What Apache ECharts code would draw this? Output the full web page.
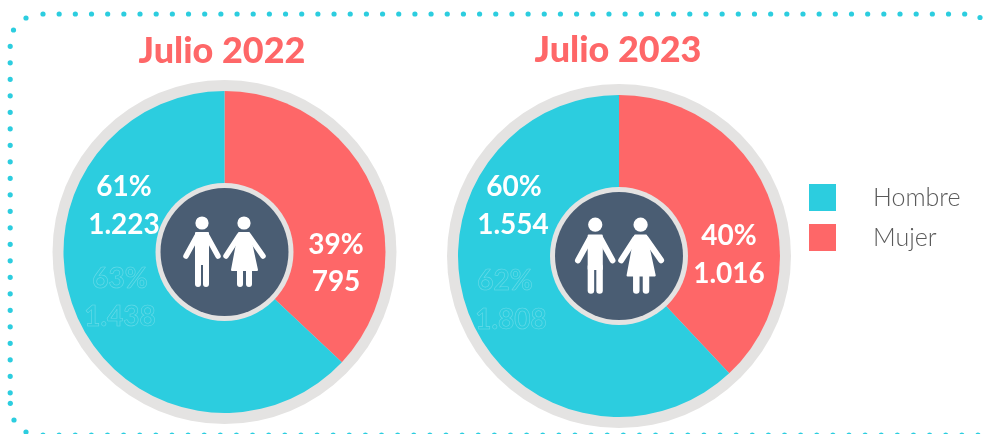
<!DOCTYPE html>
<html>
<head>
<meta charset="utf-8">
<style>
  html, body { margin: 0; padding: 0; background: #fff; }
  #chart { width: 985px; height: 434px; }
</style>
<script src="https://cdn.jsdelivr.net/npm/echarts@6/dist/echarts.min.js"></script>
</head>
<body>
<div id="chart"></div>
<script>
  var titles = ['Julio 2022', 'Julio 2023']
  var categories = ['Mujer', 'Hombre']
  var legendNames = ['Hombre', 'Mujer']
  // shares as drawn by the slices (they follow the older figures, not the printed ones)
  var slices2022 = [37, 63]
  var slices2023 = [38, 62]
  var hombreLabels = [['61%', '1.223'], ['60%', '1.554']]
  var mujerLabels = [['39%', '795'], ['40%', '1.016']]
  var ghostLabels = [['63%', '1.438'], ['62%', '1.808']]

  var CYAN = '#2ccddf'
  var RED = '#fe6768'
  var GREY = '#e4e3e2'
  var DARK = '#4a5d73'
  var FONT = 'Lato, "Open Sans", sans-serif'

  var chart = echarts.init(document.getElementById('chart'))

  function pieSeries (center, slices) {
    var base = { type: 'pie', center: center, silent: true, animation: false, startAngle: 90, label: { show: false }, labelLine: { show: false } }
    return [
      Object.assign({}, base, { name: 'aro', z: 1, radius: [0, 172], data: [{ value: 1, itemStyle: { color: GREY } }] }),
      Object.assign({}, base, {
        name: 'sexo',
        z: 2,
        radius: [0, 161],
        data: [
          { name: categories[0], value: slices[0], itemStyle: { color: RED } },
          { name: categories[1], value: slices[1], itemStyle: { color: CYAN } }
        ]
      }),
      Object.assign({}, base, { name: 'aro centro', z: 3, radius: [0, 69], data: [{ value: 1, itemStyle: { color: GREY } }] }),
      Object.assign({}, base, { name: 'centro', z: 4, radius: [0, 64], data: [{ value: 1, itemStyle: { color: DARK } }] })
    ]
  }

  // dotted frame, open on the right side
  function frameDots () {
    var pts = [[26, 18], [13.5, 30], [10.3, 403.3], [14, 420], [26, 432], [980, 17.5]]
    var i
    for (i = 0; i <= 57; i++) pts.push([43 + i * 16.17, 14])
    for (i = 0; i <= 21; i++) pts.push([10.2, 46.3 + i * 16.5])
    for (i = 0; i <= 58; i++) pts.push([43 + i * 16.12, 435])
    return pts.map(function (p) {
      return { type: 'circle', z: 10, silent: true, shape: { cx: p[0], cy: p[1], r: 2.6 }, style: { fill: CYAN } }
    })
  }

  function limb (x1, y1, x2, y2, w) {
    return { type: 'line', z: 10, silent: true, shape: { x1: x1, y1: y1, x2: x2, y2: y2 }, style: { stroke: '#fff', lineWidth: w, lineCap: 'round' } }
  }

  function poly (points) {
    return { type: 'polygon', z: 10, silent: true, shape: { points: points }, style: { fill: '#fff', stroke: '#fff', lineWidth: 2, lineJoin: 'round' } }
  }

  // man and woman pictogram, drawn around the centre of the hole
  function people (cx, cy, scale) {
    return {
      type: 'group',
      x: cx,
      y: cy,
      scaleX: scale,
      scaleY: scale,
      children: [
        { type: 'circle', z: 10, silent: true, shape: { cx: -22, cy: -29, r: 6.6 }, style: { fill: '#fff' } },
        poly([[-28, -19], [-16, -19], [-16, 12], [-28, 12]]),
        limb(-27, -16, -38, 4, 5.5),
        limb(-17, -16, -6, 4, 5.5),
        limb(-26, 10, -26, 32, 6),
        limb(-18, 10, -18, 32, 6),
        { type: 'circle', z: 10, silent: true, shape: { cx: 20, cy: -29, r: 6.6 }, style: { fill: '#fff' } },
        poly([[15, -19], [25, -19], [33, 18], [8, 18]]),
        limb(15, -16, 2, 4, 5.5),
        limb(25, -16, 39, 4, 5.5),
        limb(16, 16, 16, 32, 6),
        limb(25, 16, 25, 32, 6)
      ]
    }
  }

  function valueText (x, y, text) {
    return { type: 'text', z: 10, silent: true, x: x, y: y, style: { text: text, fill: '#fff', font: '700 28px ' + FONT, align: 'center', verticalAlign: 'middle' } }
  }

  function ghostText (x, y, text) {
    return { type: 'text', z: 10, silent: true, x: x, y: y, style: { text: text, fill: 'rgba(255,255,255,0)', stroke: 'rgba(255,255,255,0.28)', lineWidth: 0.6, font: '700 28px ' + FONT, align: 'center', verticalAlign: 'middle' } }
  }

  function titleText (x, y, text) {
    return { type: 'text', z: 10, silent: true, x: x, y: y, style: { text: text, fill: RED, font: '900 36px ' + FONT, align: 'center', verticalAlign: 'middle' } }
  }

  var elements = frameDots().concat([
    titleText(222, 51, titles[0]),
    titleText(618, 50, titles[1]),
    people(224, 252, 1),
    people(619, 256, 1.08),
    valueText(124, 187, hombreLabels[0][0]),
    valueText(124, 225, hombreLabels[0][1]),
    valueText(336, 245, mujerLabels[0][0]),
    valueText(336, 282, mujerLabels[0][1]),
    valueText(514, 187, hombreLabels[1][0]),
    valueText(513, 225, hombreLabels[1][1]),
    valueText(729, 236, mujerLabels[1][0]),
    valueText(729, 274, mujerLabels[1][1]),
    ghostText(120, 279, ghostLabels[0][0]),
    ghostText(120, 317, ghostLabels[0][1]),
    ghostText(505, 281, ghostLabels[1][0]),
    ghostText(511, 320, ghostLabels[1][1])
  ])

  chart.setOption({
    animation: false,
    legend: {
      data: legendNames,
      orient: 'vertical',
      left: 809,
      top: 184,
      padding: 0,
      itemWidth: 27,
      itemHeight: 27,
      itemGap: 13,
      icon: 'rect',
      selectedMode: false,
      textStyle: {
        color: '#5a5a5a',
        fontFamily: FONT,
        fontWeight: 300,
        fontSize: 25,
        padding: [0, 0, 0, 32]
      }
    },
    graphic: { elements: elements },
    series: pieSeries([224.5, 252], slices2022).concat(pieSeries([619, 256], slices2023))
  })
</script>
</body>
</html>
